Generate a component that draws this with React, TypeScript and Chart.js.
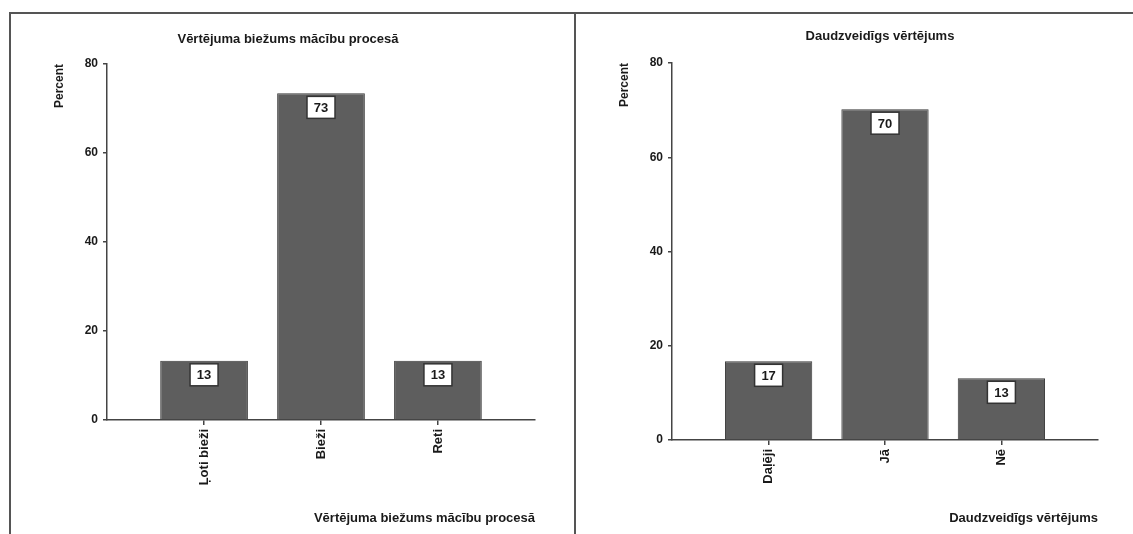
import React, { useEffect, useRef } from "react";
import { Chart, registerables } from "chart.js";

Chart.register(...registerables);

// ---- Data ----
const leftTitle = "Vērtējuma biežums mācību procesā";
const leftCategories = ["Ļoti bieži", "Bieži", "Reti"];
const leftValues = [13.3, 73.4, 13.3];
const leftValueLabels = [13, 73, 13];

const rightTitle = "Daudzveidīgs vērtējums";
const rightCategories = ["Daļēji", "Jā", "Nē"];
const rightValues = [16.7, 70.2, 13.1];
const rightValueLabels = [17, 70, 13];

const yAxisTitle = "Percent";
const yMin = 0;
const yMax = 80;
const yStep = 20;

const FONT = '"Liberation Sans", Arial, sans-serif';
const INK = "#1a1a1a";
const AXIS = "#444";

const valueBoxPlugin = {
  id: "valueBoxes",
  afterDatasetsDraw(chart: any, _args: any, opts: any) {
    const meta = chart.getDatasetMeta(0);
    const ctx = chart.ctx;
    meta.data.forEach((bar: any, i: number) => {
      const { x, y } = bar.getProps(["x", "y"], true);
      const w = 28;
      const h = 22;
      const top = y + 3;
      ctx.save();
      ctx.fillStyle = "#fff";
      ctx.fillRect(x - w / 2, top, w, h);
      ctx.strokeStyle = "#333";
      ctx.lineWidth = 1.5;
      ctx.strokeRect(x - w / 2, top, w, h);
      ctx.font = `bold 13px ${FONT}`;
      ctx.fillStyle = INK;
      ctx.textAlign = "center";
      ctx.textBaseline = "middle";
      ctx.fillText(String(opts.labels[i]), x, top + h / 2 + 1);
      ctx.restore();
    });
  },
};

const panelTitlePlugin = {
  id: "panelTitle",
  afterDraw(chart: any, _args: any, opts: any) {
    const ctx = chart.ctx;
    ctx.save();
    ctx.font = `bold 13px ${FONT}`;
    ctx.fillStyle = INK;
    ctx.textAlign = "center";
    ctx.textBaseline = "middle";
    ctx.fillText(opts.text, opts.x, opts.y);
    ctx.restore();
  },
};

type PanelProps = {
  left: number;
  width: number;
  title: string;
  titleX: number;
  titleY: number;
  categories: string[];
  values: number[];
  valueLabels: number[];
  padLeft: number;
  padRight: number;
  padTop: number;
  xAxisHeight: number;
};

function Panel(p: PanelProps) {
  const ref = useRef<HTMLCanvasElement | null>(null);
  useEffect(() => {
    if (!ref.current) return;
    const cats = p.categories;
    const chart = new Chart(ref.current, {
      type: "bar",
      data: {
        datasets: [
          {
            data: p.values.map((v, i) => ({ x: i, y: v })),
            backgroundColor: "#5e5e5e",
            borderColor: "#3a3a3a",
            borderWidth: 1,
            barPercentage: 0.75,
            categoryPercentage: 1,
          } as any,
        ],
      },
      options: {
        animation: false,
        responsive: false,
        maintainAspectRatio: false,
        layout: {
          padding: { left: p.padLeft, right: p.padRight, top: p.padTop, bottom: 0 },
        },
        plugins: {
          legend: { display: false },
          tooltip: { enabled: false },
          title: { display: false },
          valueBoxes: { labels: p.valueLabels },
          panelTitle: { text: p.title, x: p.titleX, y: p.titleY },
        } as any,
        scales: {
          x: {
            type: "linear",
            min: -0.83,
            max: cats.length - 1 + 0.83,
            offset: false,
            afterBuildTicks: (s: any) => {
              s.ticks = cats.map((_, i) => ({ value: i }));
            },
            afterFit: (s: any) => {
              s.height = p.xAxisHeight;
            },
            ticks: {
              autoSkip: false,
              minRotation: 90,
              maxRotation: 90,
              padding: 4,
              color: INK,
              font: { family: FONT, size: 13, weight: "bold" },
              callback: (v: any) => cats[v] ?? "",
            },
            grid: {
              drawOnChartArea: false,
              tickLength: 5,
              color: AXIS,
              lineWidth: 1.5,
              offset: false,
            },
            border: { display: true, color: AXIS, width: 1.5 },
            title: {
              display: true,
              text: p.title,
              align: "end",
              color: INK,
              font: { family: FONT, size: 13, weight: "bold" },
              padding: { top: 0, bottom: 8 },
            },
          } as any,
          y: {
            min: yMin,
            max: yMax,
            afterFit: (s: any) => {
              s.width = 60;
            },
            ticks: {
              stepSize: yStep,
              padding: 5,
              color: INK,
              font: { family: FONT, size: 12, weight: "bold" },
            },
            grid: {
              drawOnChartArea: false,
              tickLength: 4,
              color: AXIS,
              lineWidth: 1.5,
            },
            border: { display: true, color: AXIS, width: 1.5 },
            title: {
              display: true,
              text: yAxisTitle,
              align: "end",
              color: INK,
              font: { family: FONT, size: 12, weight: "bold" },
              padding: { top: 5, bottom: 0 },
            },
          } as any,
        },
      },
      plugins: [valueBoxPlugin, panelTitlePlugin],
    });
    return () => chart.destroy();
  }, []);
  return (
    <canvas
      ref={ref}
      width={p.width}
      height={534}
      style={{ position: "absolute", left: p.left, top: 0, width: p.width, height: 534 }}
    />
  );
}

export default function App() {
  const line = "#555";
  return (
    <div
      style={{
        position: "fixed",
        left: 0,
        top: 0,
        width: 1133,
        height: 534,
        background: "#fff",
        overflow: "hidden",
      }}
    >
      <Panel
        left={0}
        width={575}
        title={leftTitle}
        titleX={288}
        titleY={39}
        categories={leftCategories}
        values={leftValues}
        valueLabels={leftValueLabels}
        padLeft={47}
        padRight={40}
        padTop={64}
        xAxisHeight={114}
      />
      <Panel
        left={575}
        width={558}
        title={rightTitle}
        titleX={305}
        titleY={36}
        categories={rightCategories}
        values={rightValues}
        valueLabels={rightValueLabels}
        padLeft={37}
        padRight={35}
        padTop={63}
        xAxisHeight={94}
      />
      <div style={{ position: "absolute", left: 9, top: 12, width: 1124, height: 2, background: line }} />
      <div style={{ position: "absolute", left: 9, top: 12, width: 2, height: 522, background: line }} />
      <div style={{ position: "absolute", left: 574, top: 12, width: 2, height: 522, background: line }} />
    </div>
  );
}
